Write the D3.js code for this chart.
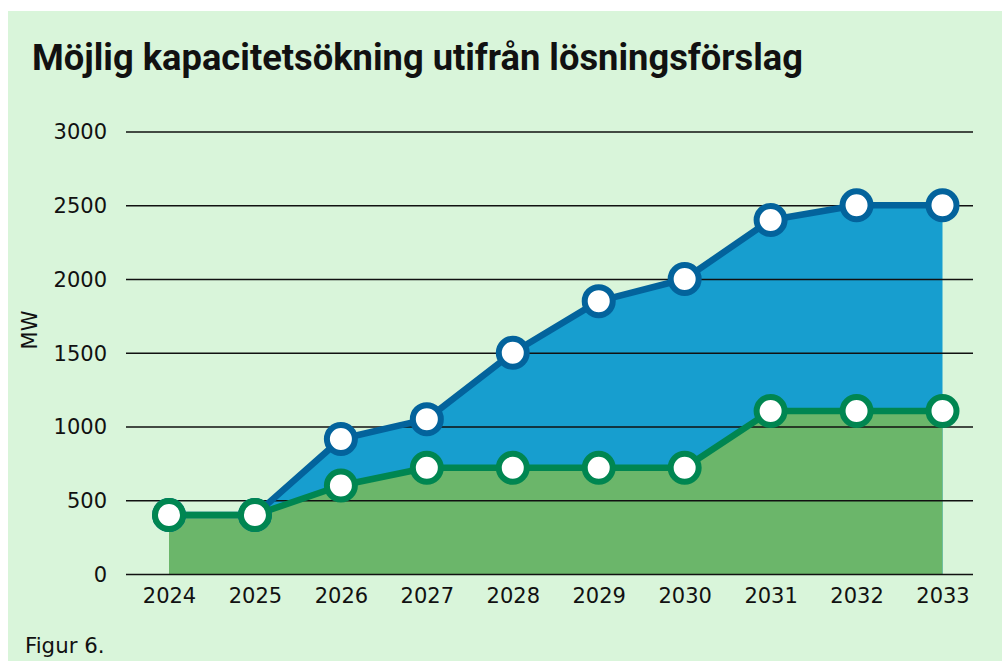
<!DOCTYPE html>
<html><head><meta charset="utf-8">
<script src="https://cdn.jsdelivr.net/npm/d3@7"></script>
<style>
html,body{margin:0;padding:0;background:#fff;}
svg{display:block;}
</style></head>
<body>
<script>
const years = ["2024","2025","2026","2027","2028","2029","2030","2031","2032","2033"];
const blueValues = [400, 400, 915, 1050, 1500, 1850, 2000, 2400, 2500, 2500];
const greenValues = [400, 400, 600, 720, 720, 720, 720, 1105, 1105, 1105];
const yTicks = [0, 500, 1000, 1500, 2000, 2500, 3000];
const titleText = "Möjlig kapacitetsökning utifrån lösningsförslag";
const yLabel = "MW";
const caption = "Figur 6.";

const W = 1002, H = 661;
const svg = d3.select("body").append("svg").attr("width", W).attr("height", H);

svg.append("rect").attr("x", 8).attr("y", 11).attr("width", W - 8).attr("height", H - 11).attr("fill", "#d9f5da");

const gridLeft = 126, gridRight = 973;
const x = d3.scalePoint().domain(years).range([169, 942.5]);
const y = d3.scaleLinear().domain([0, 3000]).range([574, 131.5]);

const fontBody = "'DejaVu Sans', Verdana, sans-serif";

// title
svg.append("text").attr("x", 32).attr("y", 70)
  .attr("font-family", "Roboto, 'Noto Sans', sans-serif").attr("font-weight", 700)
  .attr("font-size", 36).attr("fill", "#111")
  .attr("textLength", 771).attr("lengthAdjust", "spacingAndGlyphs")
  .text(titleText);

const data = years.map((yr, i) => ({yr, b: blueValues[i], g: greenValues[i]}));

// areas
const areaB = d3.area().x(d => x(d.yr)).y0(y(0)).y1(d => y(d.b));
const areaG = d3.area().x(d => x(d.yr)).y0(y(0)).y1(d => y(d.g));
svg.append("path").datum(data).attr("d", areaB).attr("fill", "#179ecf");
svg.append("path").datum(data).attr("d", areaG).attr("fill", "#6bb66a");

// gridlines + y axis
const yAxis = d3.axisLeft(y).tickValues(yTicks).tickSize(-(gridRight - gridLeft)).tickPadding(19).tickFormat(d3.format("d"));
const gy = svg.append("g").attr("transform", `translate(${gridLeft},0)`).call(yAxis);
gy.select(".domain").remove();
gy.selectAll(".tick line").attr("stroke", "#111").attr("stroke-width", 1.6);
gy.selectAll(".tick text").attr("font-family", fontBody).attr("font-size", 21).attr("fill", "#111").attr("x", -19).attr("dy", "0.35em");

// x axis
const xAxis = d3.axisBottom(x).tickSize(0).tickPadding(14);
const gx = svg.append("g").attr("transform", `translate(0,${y(0)})`).call(xAxis);
gx.select(".domain").remove();
gx.selectAll(".tick text").attr("font-family", fontBody).attr("font-size", 21).attr("fill", "#111");

// lines
const lineB = d3.line().x(d => x(d.yr)).y(d => y(d.b));
const lineG = d3.line().x(d => x(d.yr)).y(d => y(d.g));
svg.append("path").datum(data).attr("d", lineB).attr("fill", "none").attr("stroke", "#03639c").attr("stroke-width", 6.5).attr("stroke-linejoin", "round");
svg.append("path").datum(data).attr("d", lineG).attr("fill", "none").attr("stroke", "#008651").attr("stroke-width", 6.5).attr("stroke-linejoin", "round");

svg.append("g").selectAll("circle").data(data).join("circle")
  .attr("cx", d => x(d.yr)).attr("cy", d => y(d.b)).attr("r", 14)
  .attr("fill", "#fff").attr("stroke", "#03639c").attr("stroke-width", 6);
svg.append("g").selectAll("circle").data(data).join("circle")
  .attr("cx", d => x(d.yr)).attr("cy", d => y(d.g)).attr("r", 14)
  .attr("fill", "#fff").attr("stroke", "#008651").attr("stroke-width", 6);

// y label
svg.append("text").attr("transform", "translate(37,330) rotate(-90)")
  .attr("text-anchor", "middle").attr("font-family", fontBody).attr("font-size", 21).attr("fill", "#111")
  .text(yLabel);

// caption
svg.append("text").attr("x", 25).attr("y", 653)
  .attr("font-family", fontBody).attr("font-size", 21.3).attr("fill", "#111")
  .text(caption);
</script>
</body></html>
